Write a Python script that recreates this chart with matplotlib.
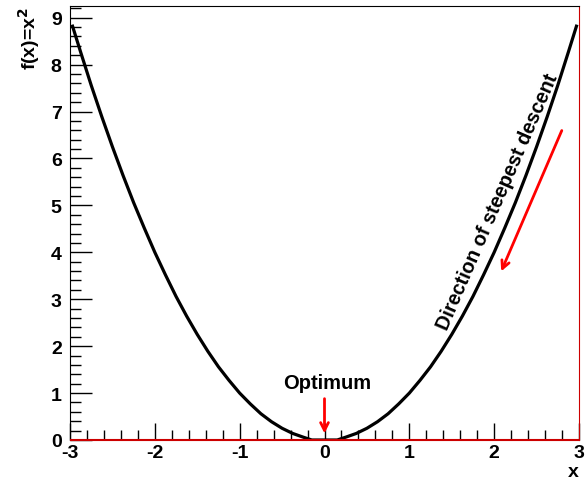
import numpy as np
import matplotlib.pyplot as plt
from matplotlib.ticker import MultipleLocator

plt.rcParams['font.family'] = ['Liberation Sans', 'DejaVu Sans']
plt.rcParams['axes.unicode_minus'] = False

# curve points
x_pts = [-2.97, -2.875, -2.75, -2.625, -2.5, -2.375, -2.25, -2.125, -2.0,
         -1.875, -1.75, -1.625, -1.5, -1.375, -1.25, -1.125, -1.0, -0.875,
         -0.75, -0.625, -0.5, -0.375, -0.25, -0.15, 0.0, 0.15, 0.25, 0.375,
         0.5, 0.625, 0.75, 0.875, 1.0, 1.125, 1.25, 1.375, 1.5, 1.625, 1.75,
         1.875, 2.0, 2.125, 2.25, 2.375, 2.5, 2.625, 2.75, 2.875, 2.97]
y_pts = [8.82, 8.27, 7.56, 6.89, 6.25, 5.64, 5.06, 4.52, 4.0,
         3.52, 3.06, 2.64, 2.25, 1.89, 1.56, 1.27, 1.0, 0.77,
         0.56, 0.39, 0.25, 0.14, 0.06, 0.0, 0.0, 0.0, 0.06, 0.14,
         0.25, 0.39, 0.56, 0.77, 1.0, 1.27, 1.56, 1.89, 2.25, 2.64, 3.06,
         3.52, 4.0, 4.52, 5.06, 5.64, 6.25, 6.89, 7.56, 8.27, 8.82]

optimum_label = "Optimum"
descent_label = "Direction of steepest descent"

fig = plt.figure(figsize=(5.87, 4.85), dpi=100)
ax = fig.add_axes([70/587, 44/485, 509/587, 434/485])

ax.plot(x_pts, y_pts, color='black', lw=2.3, solid_joinstyle='round')
ax.axhline(0, color='#cc0000', lw=1.5, zorder=3)

ax.set_xlim(-3, 3)
ax.set_ylim(0, 9.25)

ax.xaxis.set_major_locator(MultipleLocator(1))
ax.xaxis.set_minor_locator(MultipleLocator(0.2))
ax.yaxis.set_major_locator(MultipleLocator(1))
ax.yaxis.set_minor_locator(MultipleLocator(0.2))
ax.tick_params(which='both', direction='in', top=False, right=False,
               labelsize=14, width=1)
ax.tick_params(axis='y', which='major', length=16, pad=6)
ax.tick_params(axis='y', which='minor', length=8)
ax.tick_params(axis='x', which='major', length=12, pad=3)
ax.tick_params(axis='x', which='minor', length=7)
for lab in ax.get_xticklabels() + ax.get_yticklabels():
    lab.set_fontweight('bold')

ax.spines['right'].set_color('#cc0000')
ax.spines['bottom'].set_color('#cc0000')

ax.set_xlabel('x', fontsize=14, fontweight='bold', loc='right', labelpad=1)
ax.set_ylabel(r'f(x)=x$^\mathbf{2}$', fontsize=14, fontweight='bold',
              loc='top', labelpad=6)

ax.text(0.03, 1.22, optimum_label, fontsize=14.5, fontweight='bold',
        ha='center', va='center')
ax.annotate('', xy=(0, 0.08), xytext=(0, 0.94),
            arrowprops=dict(arrowstyle='->', color='red', lw=2,
                            mutation_scale=14))

ax.text(2.04, 5.1, descent_label, fontsize=14.3, fontweight='bold',
        rotation=66.5, ha='center', va='center', rotation_mode='anchor')
ax.annotate('', xy=(2.07, 3.54), xytext=(2.81, 6.65),
            arrowprops=dict(arrowstyle='->', color='red', lw=2,
                            mutation_scale=14))

fig.savefig('out.png', dpi=100)
